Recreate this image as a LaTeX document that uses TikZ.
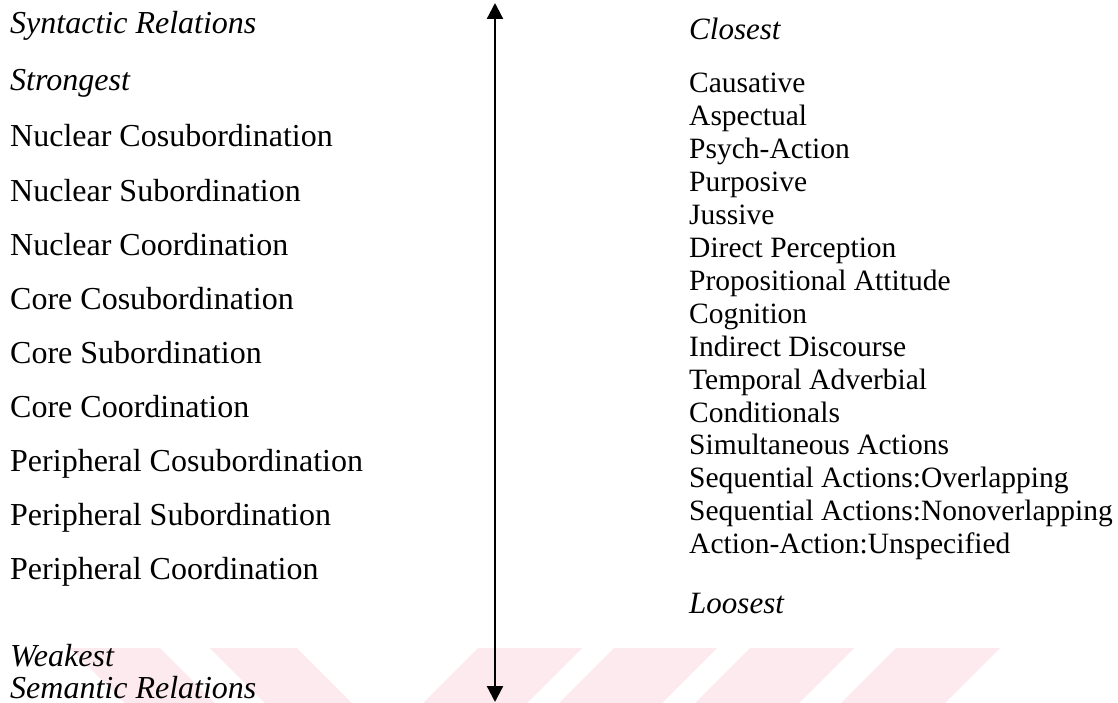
\documentclass[tikz,border=0pt]{standalone}
\usepackage{fontspec}
\setmainfont{Liberation Serif}
\usetikzlibrary{arrows.meta}
\definecolor{wm}{RGB}{252,234,238}
\tikzset{
  lbl/.style={anchor=base west, inner sep=0pt, font=\fontsize{32}{38}\selectfont},
  lit/.style={anchor=base west, inner sep=0pt, font=\fontsize{32}{38}\selectfont\itshape},
  rbl/.style={anchor=base west, inner sep=0pt, font=\fontsize{29.5}{34}\selectfont},
  rit/.style={anchor=base west, inner sep=0pt, font=\fontsize{31}{36}\selectfont\itshape},
  stripe/.style={fill=wm, draw=none},
  axisline/.style={line width=2.3pt, {Triangle[width=16pt,length=16pt]}-{Triangle[width=16pt,length=16pt]}}
}
\begin{document}
\begin{tikzpicture}[x=1pt,y=-1pt]
\useasboundingbox[fill=white] (0,0) rectangle (1118,703);
% watermark stripes
\fill[stripe] (70,648) -- (160,648) -- (215,703) -- (125,703) -- cycle;
\fill[stripe] (210,648) -- (297,648) -- (352,703) -- (265,703) -- cycle;
\fill[stripe] (478,648) -- (582,648) -- (527,703) -- (423,703) -- cycle;
\fill[stripe] (614,648) -- (717,648) -- (662,703) -- (559,703) -- cycle;
\fill[stripe] (750,648) -- (854,648) -- (799,703) -- (695,703) -- cycle;
\fill[stripe] (896,648) -- (1000,648) -- (945,703) -- (841,703) -- cycle;
% left column
\node[lit] (syn) at (10,34) {Syntactic Relations};
\node[lit] (strong) at (10,91) {Strongest};
\foreach \t [count=\i] in {Nuclear Cosubordination, Nuclear Subordination, Nuclear Coordination, Core Cosubordination, Core Subordination, Core Coordination, Peripheral Cosubordination, Peripheral Subordination, Peripheral Coordination}
  \node[lbl] (l\i) at (10,{147+54.1*(\i-1)}) {\t};
\node[lit] (weak) at (10,666) {Weakest};
\node[lit] (sem) at (10,698) {Semantic Relations};
% arrow
\coordinate (top) at (495,3);
\coordinate (bot) at (495,702);
\draw[axisline] (bot) -- (top);
% right column
\node[rit] (close) at (689,40) {Closest};
\foreach \t [count=\i] in {Causative, Aspectual, Psych-Action, Purposive, Jussive, Direct Perception, Propositional Attitude, Cognition, Indirect Discourse, Temporal Adverbial, Conditionals, Simultaneous Actions, Sequential Actions:Overlapping, Sequential Actions:Nonoverlapping, Action-Action:Unspecified}
  \node[rbl] (r\i) at (689,{93+32.9*(\i-1)}) {\t};
\node[rit] (loose) at (689,613) {Loosest};
\end{tikzpicture}
\end{document}
